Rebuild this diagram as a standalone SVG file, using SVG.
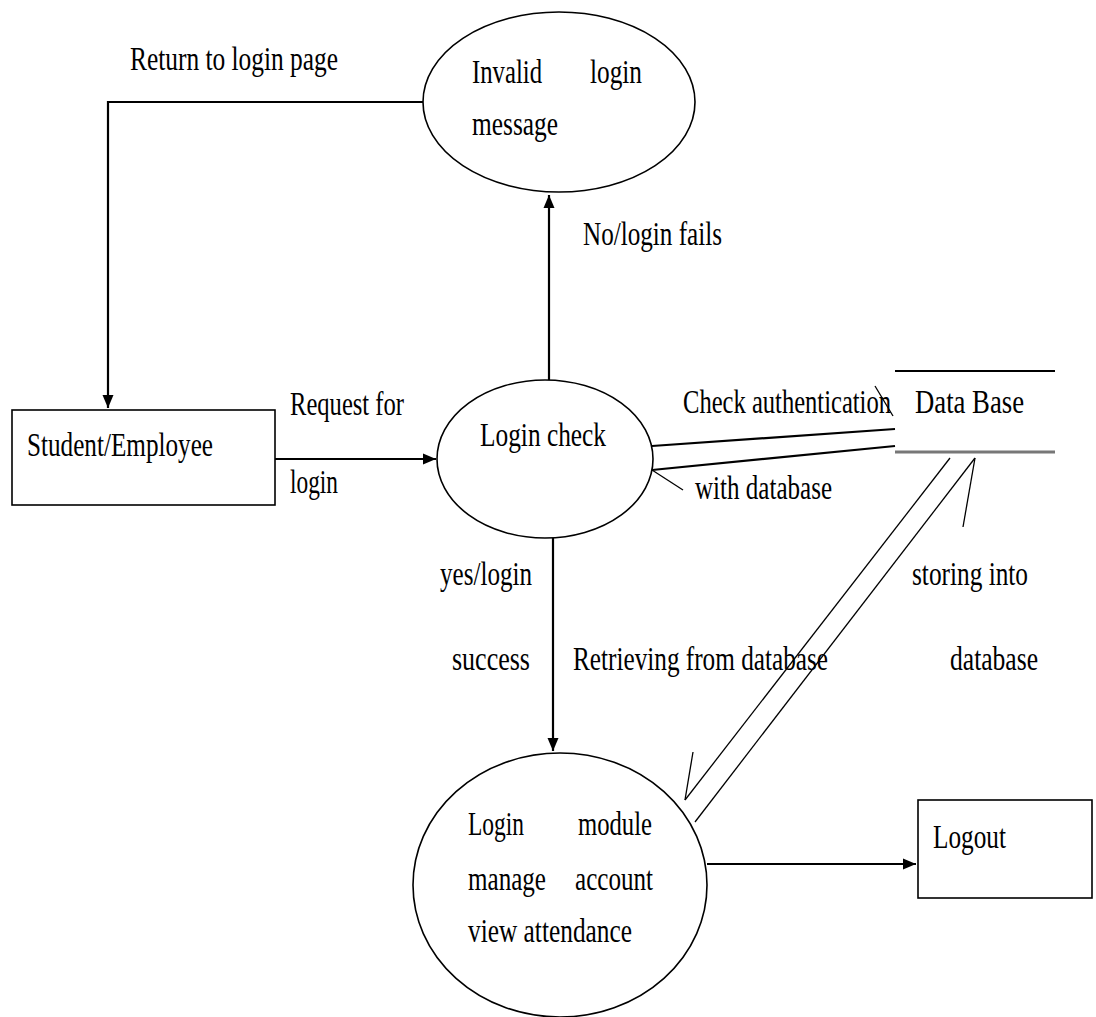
<svg xmlns="http://www.w3.org/2000/svg" width="1096" height="1017" viewBox="0 0 1096 1017">
<style>
text{font-family:"Liberation Serif","Times New Roman",serif;font-size:25px;fill:#000}
.n{fill:#fff;stroke:#000;stroke-width:1.6}
.c{fill:none;stroke:#000;stroke-width:2.2}
.t{fill:none;stroke:#000;stroke-width:1.3}
</style>
<defs>
<marker id="ah" viewBox="0 0 13 12" refX="13" refY="6" markerWidth="13" markerHeight="12" markerUnits="userSpaceOnUse" orient="auto">
<path d="M0,0.5 L13,6 L0,11.5 Z" fill="#000"/>
</marker>
</defs>
<rect width="1096" height="1017" fill="#fff"/>
<g id="connectors">
<polyline class="c" points="423,102 108,102 108,408" marker-end="url(#ah)"/>
<line class="c" x1="549" y1="380" x2="549" y2="195" marker-end="url(#ah)"/>
<line class="c" x1="275" y1="459" x2="436" y2="459" marker-end="url(#ah)"/>
<line class="c" x1="553" y1="538" x2="553" y2="751" marker-end="url(#ah)"/>
<line class="c" x1="707" y1="864" x2="916" y2="864" marker-end="url(#ah)"/>
<line class="c" x1="652" y1="446" x2="895" y2="429"/>
<line class="c" x1="652" y1="470" x2="895" y2="446"/>
<line class="t" x1="652" y1="470" x2="683" y2="490"/>
<line class="t" x1="875" y1="386" x2="893" y2="416"/>
<line class="t" x1="950" y1="458" x2="685" y2="800"/>
<line class="t" x1="693" y1="752" x2="685" y2="800"/>
<line class="t" x1="975" y1="458" x2="695" y2="822"/>
<line class="t" x1="975" y1="458" x2="963" y2="527"/>
</g>
<g id="invalid">
<ellipse class="n" cx="559" cy="102" rx="136" ry="90"/>
<text transform="matrix(1,0,0,1.36,472,83)" textLength="70" lengthAdjust="spacingAndGlyphs">Invalid</text>
<text transform="matrix(1,0,0,1.36,590,83)" textLength="52" lengthAdjust="spacingAndGlyphs">login</text>
<text transform="matrix(1,0,0,1.36,472,135)" textLength="86" lengthAdjust="spacingAndGlyphs">message</text>
</g>
<g id="student">
<rect class="n" x="12" y="410" width="263" height="95"/>
<text transform="matrix(1,0,0,1.36,27,456)" textLength="186" lengthAdjust="spacingAndGlyphs">Student/Employee</text>
</g>
<g id="logincheck">
<ellipse class="n" cx="545" cy="459" rx="108" ry="79"/>
<text transform="matrix(1,0,0,1.36,480,446)" textLength="126" lengthAdjust="spacingAndGlyphs">Login check</text>
</g>
<g id="database">
<line x1="895" y1="371" x2="1055" y2="371" stroke="#000" stroke-width="2"/>
<line x1="895" y1="452" x2="1055" y2="452" stroke="#777" stroke-width="3"/>
<text transform="matrix(1,0,0,1.36,915,413)" textLength="109" lengthAdjust="spacingAndGlyphs">Data  Base</text>
</g>
<g id="module">
<ellipse class="n" cx="560" cy="885" rx="147" ry="132"/>
<text transform="matrix(1,0,0,1.36,468,835)" textLength="56" lengthAdjust="spacingAndGlyphs">Login</text>
<text transform="matrix(1,0,0,1.36,578,835)" textLength="74" lengthAdjust="spacingAndGlyphs">module</text>
<text transform="matrix(1,0,0,1.36,468,890)" textLength="78" lengthAdjust="spacingAndGlyphs">manage</text>
<text transform="matrix(1,0,0,1.36,575,890)" textLength="78" lengthAdjust="spacingAndGlyphs">account</text>
<text transform="matrix(1,0,0,1.36,468,942)" textLength="164" lengthAdjust="spacingAndGlyphs">view attendance</text>
</g>
<g id="logout">
<rect class="n" x="918" y="800" width="174" height="98"/>
<text transform="matrix(1,0,0,1.36,933,848)" textLength="73" lengthAdjust="spacingAndGlyphs">Logout</text>
</g>
<g id="labels">
<text transform="matrix(1,0,0,1.36,130,70)" textLength="208" lengthAdjust="spacingAndGlyphs">Return to login page</text>
<text transform="matrix(1,0,0,1.36,583,245)" textLength="139" lengthAdjust="spacingAndGlyphs">No/login fails</text>
<text transform="matrix(1,0,0,1.36,290,415)" textLength="114" lengthAdjust="spacingAndGlyphs">Request for</text>
<text transform="matrix(1,0,0,1.36,290,493)" textLength="48" lengthAdjust="spacingAndGlyphs">login</text>
<text transform="matrix(1,0,0,1.36,683,413)" textLength="208" lengthAdjust="spacingAndGlyphs">Check authentication</text>
<text transform="matrix(1,0,0,1.36,695,499)" textLength="137" lengthAdjust="spacingAndGlyphs">with database</text>
<text transform="matrix(1,0,0,1.36,440,585)" textLength="92" lengthAdjust="spacingAndGlyphs">yes/login</text>
<text transform="matrix(1,0,0,1.36,452,670)" textLength="78" lengthAdjust="spacingAndGlyphs">success</text>
<text transform="matrix(1,0,0,1.36,573,670)" textLength="255" lengthAdjust="spacingAndGlyphs">Retrieving from database</text>
<text transform="matrix(1,0,0,1.36,912,585)" textLength="116" lengthAdjust="spacingAndGlyphs">storing into</text>
<text transform="matrix(1,0,0,1.36,950,670)" textLength="88" lengthAdjust="spacingAndGlyphs">database</text>
</g>
</svg>
